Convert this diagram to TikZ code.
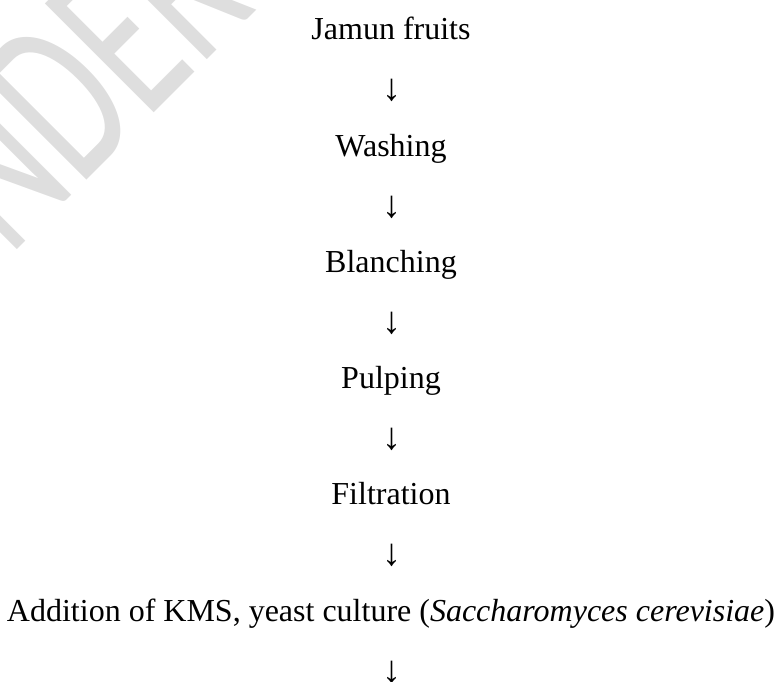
\documentclass[tikz,border=0pt]{standalone}
\usepackage{fontspec}
\setmainfont{Liberation Serif}
\newfontfamily\wmfont{Carlito}
\definecolor{wmgray}{RGB}{222,222,222}
\begin{document}
\begin{tikzpicture}[x=1pt,y=1pt,
  flowtext/.style={font=\fontsize{32}{38}\selectfont, anchor=base, inner sep=0pt, outer sep=0pt},
  flowarrow/.style={font=\fontsize{38}{44}\selectfont, anchor=base, inner sep=0pt, outer sep=0pt},
  watermark/.style={font=\wmfont\fontsize{240}{240}\selectfont, text=wmgray, anchor=base west, inner sep=0pt, outer sep=0pt, xscale=0.64}]
\useasboundingbox (0,0) rectangle (782,-682);
\begin{scope}
  \clip (0,0) rectangle (782,-682);
  \begin{scope}[shift={(160,-98)}, rotate=45, transform shape]
    \node[watermark] (wm) at (-318,-6) {UNDER PEER REVIEW};
  \end{scope}
\end{scope}
\node[flowtext] (s1) at (391,-40) {Jamun fruits};
\node[flowarrow] (a1) at (392,-101) {↓};
\node[flowtext] (s2) at (391,-156.2) {Washing};
\node[flowarrow] (a2) at (392,-217.2) {↓};
\node[flowtext] (s3) at (391,-272.4) {Blanching};
\node[flowarrow] (a3) at (392,-333.4) {↓};
\node[flowtext] (s4) at (391,-388.6) {Pulping};
\node[flowarrow] (a4) at (392,-449.6) {↓};
\node[flowtext] (s5) at (391,-504.8) {Filtration};
\node[flowarrow] (a5) at (392,-565.8) {↓};
\node[flowtext] (s6) at (391,-621) {Addition of KMS, yeast culture (\textit{Saccharomyces cerevisiae})};
\node[flowarrow] (a6) at (392,-682) {↓};
\end{tikzpicture}
\end{document}
